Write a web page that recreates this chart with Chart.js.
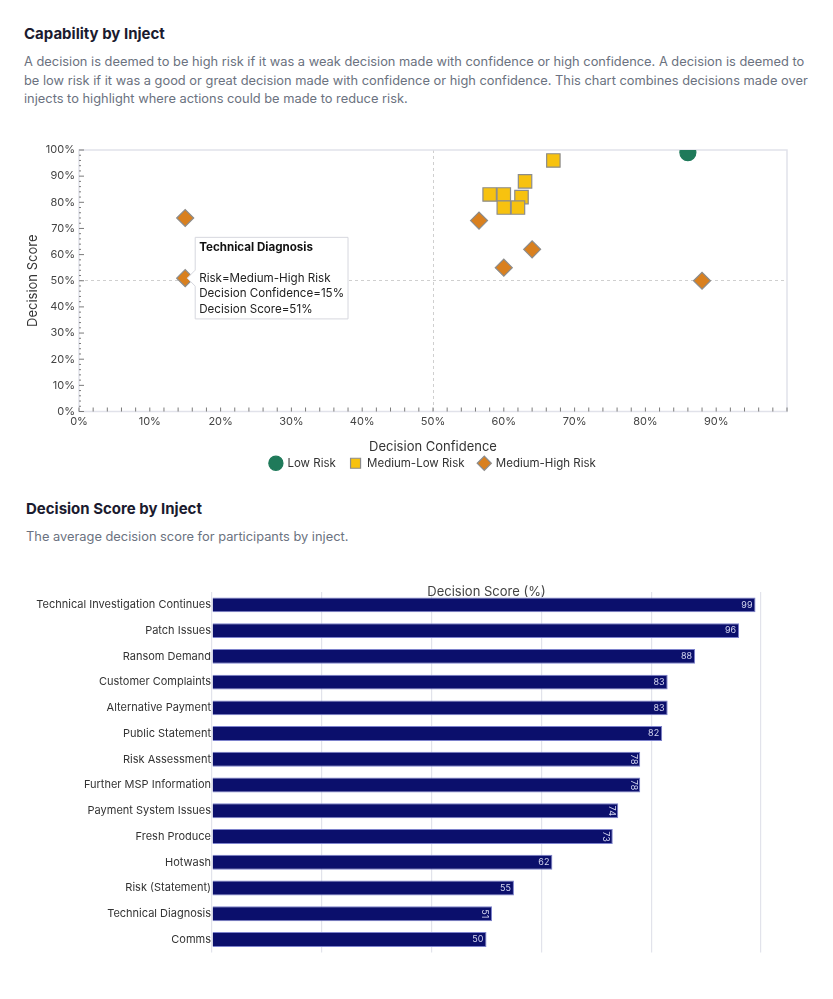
<!DOCTYPE html>
<html>
<head>
  <meta charset="utf-8">
  <title>Capability by Inject</title>
  <script src="https://cdn.jsdelivr.net/npm/chart.js"></script>
  <style>
    body { margin: 0; background: #fff; font-family: Inter, "Noto Sans", sans-serif; }
    .title { position: absolute; font-size: 15px; font-weight: 700; color: #1b1b2f; line-height: 18px; }
    .desc { position: absolute; font-size: 12.85px; color: #6b7280; line-height: 18.5px; }
    .box { position: absolute; left: 0; width: 833px; }
  </style>
</head>
<body>
  <div class="title" style="left:24px; top:25px;">Capability by Inject</div>
  <div class="desc" style="left:24px; top:53px; width:795px;">A decision is deemed to be high risk if it was a weak decision made with confidence or high confidence. A decision is deemed to be low risk if it was a good or great decision made with confidence or high confidence. This chart combines decisions made over injects to highlight where actions could be made to reduce risk.</div>
  <div class="box" style="top:130px; height:351px;"><canvas id="riskChart"></canvas></div>

  <div class="title" style="left:26px; top:500px;">Decision Score by Inject</div>
  <div class="desc" style="left:26px; top:528px;">The average decision score for participants by inject.</div>
  <div class="box" style="top:570px; height:390px;"><canvas id="scoreChart"></canvas></div>

  <script>
    // 各インジェクトのデータ
    const injects = ['Technical Investigation Continues', 'Patch Issues', 'Ransom Demand', 'Customer Complaints',
      'Alternative Payment', 'Public Statement', 'Risk Assessment', 'Further MSP Information',
      'Payment System Issues', 'Fresh Produce', 'Hotwash', 'Risk (Statement)', 'Technical Diagnosis', 'Comms'];
    const scores = [99, 96, 88, 83, 83, 82, 78, 78, 74, 73, 62, 55, 51, 50];
    const confidence = [86, 67, 63, 58, 60, 62.5, 60, 62, 15, 56.5, 64, 60, 15, 88];
    const risk = ['Low Risk', 'Medium-Low Risk', 'Medium-Low Risk', 'Medium-Low Risk', 'Medium-Low Risk',
      'Medium-Low Risk', 'Medium-Low Risk', 'Medium-Low Risk', 'Medium-High Risk', 'Medium-High Risk',
      'Medium-High Risk', 'Medium-High Risk', 'Medium-High Risk', 'Medium-High Risk'];
    const riskLevels = ['Low Risk', 'Medium-Low Risk', 'Medium-High Risk'];
    // ラベルを縦向きに描くバー
    const rotatedLabels = ['Risk Assessment', 'Further MSP Information', 'Payment System Issues', 'Fresh Produce', 'Technical Diagnosis'];

    const riskStyle = {
      'Low Risk': { color: '#1f7a5a', border: '#1f7a5a', point: 'circle', radius: 8 },
      'Medium-Low Risk': { color: '#f7c20f', border: '#8c8c8c', point: 'rect', radius: 9.5 },
      'Medium-High Risk': { color: '#d9801f', border: '#8c8c8c', point: 'rectRot', radius: 8.5 }
    };

    // プロット枠と内向きの目盛り
    const frame = {
      id: 'frame',
      beforeDatasetsDraw(chart) {
        const { ctx, chartArea: a, scales } = chart;
        ctx.save();
        ctx.strokeStyle = '#e1e2ea';
        ctx.lineWidth = 1.5;
        ctx.strokeRect(a.left, a.top, a.right - a.left, a.bottom - a.top);
        ctx.strokeStyle = '#7a7a7a';
        ctx.lineWidth = 1;
        scales.x.ticks.forEach(t => {
          const px = scales.x.getPixelForValue(t.value);
          ctx.beginPath(); ctx.moveTo(px, a.bottom); ctx.lineTo(px, a.bottom - 4); ctx.stroke();
        });
        scales.y.ticks.forEach(t => {
          const py = scales.y.getPixelForValue(t.value);
          const len = t.value % 10 === 0 ? 5 : 2;
          ctx.beginPath(); ctx.moveTo(a.left, py); ctx.lineTo(a.left + len, py); ctx.stroke();
        });
        ctx.restore();
      }
    };

    const pctTick = (v) => (v % 10 === 0 ? v + '%' : '');
    const midGrid = (c) => (c.tick && c.tick.value === 50 ? '#cfcfcf' : 'rgba(0,0,0,0)');

    const scatterSets = riskLevels.map(level => {
      const s = riskStyle[level];
      const pts = [];
      injects.forEach((name, i) => {
        if (risk[i] === level) pts.push({ x: confidence[i], y: scores[i], name: name });
      });
      return {
        label: level,
        data: pts,
        backgroundColor: s.color,
        borderColor: s.border,
        borderWidth: 1.2,
        pointStyle: s.point,
        pointRadius: s.radius,
        pointHoverRadius: s.radius,
        clip: 0
      };
    });

    const riskChart = new Chart(document.getElementById('riskChart'), {
      type: 'scatter',
      data: { datasets: scatterSets },
      plugins: [frame],
      options: {
        responsive: true,
        maintainAspectRatio: false,
        animation: false,
        layout: { padding: { top: 20, right: 46, left: 25, bottom: 2 } },
        scales: {
          x: {
            min: 0, max: 100,
            ticks: { stepSize: 2, autoSkip: false, maxTicksLimit: 60, maxRotation: 0, padding: 4,
              callback: v => (v === 100 ? '' : pctTick(v)), color: '#444', font: { family: 'Inter', size: 11 } },
            grid: { color: midGrid, drawTicks: false, lineWidth: 1 },
            border: { display: false, dash: [3, 3] },
            title: { display: true, text: 'Decision Confidence', color: '#333', padding: { top: 0, bottom: -11 }, font: { family: 'Inter', size: 13 } },
            afterFit: s => { s.height = 32; }
          },
          y: {
            min: 0, max: 100,
            ticks: { stepSize: 2, autoSkip: false, maxTicksLimit: 60, padding: 4,
              callback: pctTick, color: '#444', font: { family: 'Inter', size: 11 } },
            grid: { color: midGrid, drawTicks: false, lineWidth: 1 },
            border: { display: false, dash: [3, 3] },
            title: { display: true, text: 'Decision Score', color: '#333', padding: 0, font: { family: 'Inter', size: 13 } },
            afterFit: s => { s.width = 54; }
          }
        },
        plugins: {
          legend: {
            position: 'bottom',
            fullSize: false,
            labels: { usePointStyle: true, boxHeight: 10, padding: 14, color: '#333', font: { family: 'Inter', size: 11.5 } }
          },
          tooltip: {
            enabled: true,
            backgroundColor: '#fff',
            borderColor: '#d6d7de',
            borderWidth: 1,
            cornerRadius: 0,
            displayColors: false,
            xAlign: 'left',
            yAlign: 'center',
            caretSize: 8,
            caretPadding: 2,
            padding: { left: 4, right: 4, top: 3, bottom: 2 },
            titleColor: '#111',
            bodyColor: '#222',
            titleFont: { family: 'Inter', size: 11.6, weight: 'bold', lineHeight: 1.32 },
            bodyFont: { family: 'Inter', size: 11.6, lineHeight: 1.32 },
            titleSpacing: 0,
            titleMarginBottom: 0,
            bodySpacing: 0,
            callbacks: {
              title: items => [items[0].raw.name, ''],
              label: item => ['Risk=' + item.dataset.label,
                'Decision Confidence=' + Math.round(item.raw.x) + '%',
                'Decision Score=' + item.raw.y + '%']
            }
          }
        }
      }
    });

    // Technical Diagnosis のツールチップを表示
    const tdSet = riskLevels.indexOf(risk[injects.indexOf('Technical Diagnosis')]);
    const tdIndex = scatterSets[tdSet].data.findIndex(p => p.name === 'Technical Diagnosis');
    riskChart.tooltip.setActiveElements([{ datasetIndex: tdSet, index: tdIndex }], { x: 0, y: 0 });
    riskChart.update('none');

    // バーの値ラベル
    const barValues = {
      id: 'barValues',
      afterDatasetsDraw(chart) {
        const { ctx } = chart;
        const meta = chart.getDatasetMeta(0);
        ctx.save();
        ctx.fillStyle = '#d4d6f0';
        ctx.font = '9px Inter';
        meta.data.forEach((bar, i) => {
          const text = String(scores[i]);
          if (rotatedLabels.includes(injects[i])) {
            ctx.save();
            ctx.translate(bar.x - 7, bar.y);
            ctx.rotate(Math.PI / 2);
            ctx.textAlign = 'center';
            ctx.textBaseline = 'middle';
            ctx.fillText(text, 0, 0);
            ctx.restore();
          } else {
            ctx.textAlign = 'right';
            ctx.textBaseline = 'middle';
            ctx.fillText(text, bar.x - 3, bar.y);
          }
        });
        ctx.restore();
      }
    };

    new Chart(document.getElementById('scoreChart'), {
      type: 'bar',
      data: {
        labels: injects,
        datasets: [{
          label: 'Decision Score (%)',
          data: scores,
          backgroundColor: '#0b0f6c',
          borderColor: '#7d82cc',
          borderWidth: 1,
          categoryPercentage: 1,
          barPercentage: 0.58
        }]
      },
      plugins: [barValues],
      options: {
        indexAxis: 'y',
        responsive: true,
        maintainAspectRatio: false,
        animation: false,
        layout: { padding: { top: 14, right: 72, left: 0, bottom: 7 } },
        scales: {
          x: {
            position: 'top',
            min: 0, max: 100,
            ticks: { display: false, stepSize: 20 },
            grid: { color: '#e2e3eb', drawTicks: false, lineWidth: 1.2 },
            border: { display: false },
            title: { display: true, text: 'Decision Score (%)', color: '#444', padding: 0, font: { family: 'Inter', size: 13 } },
            afterFit: s => { s.height = 8; }
          },
          y: {
            ticks: { color: '#333', padding: 1, autoSkip: false, font: { family: 'Inter', size: 11 } },
            grid: { display: false, drawTicks: false },
            border: { display: false },
            afterFit: s => { s.width = 212; }
          }
        },
        plugins: {
          legend: { display: false },
          tooltip: { enabled: false }
        }
      }
    });
  </script>
</body>
</html>
